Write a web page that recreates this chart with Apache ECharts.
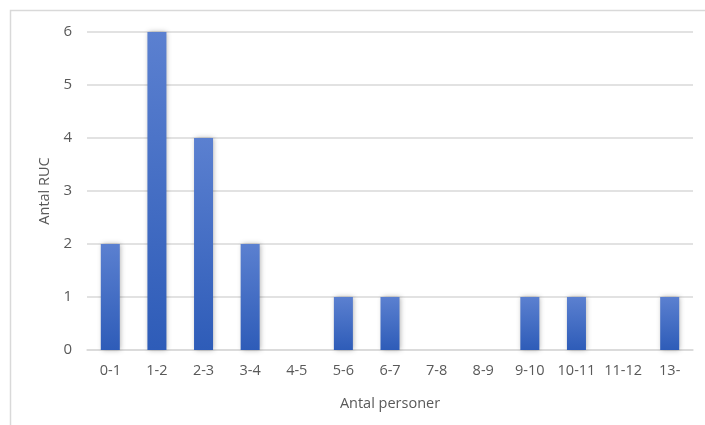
<!DOCTYPE html>
<html><head><meta charset="utf-8">
<script src="https://cdn.jsdelivr.net/npm/echarts@6/dist/echarts.min.js"></script>
<style>html,body{margin:0;padding:0;background:#fff}#c{width:705px;height:425px}</style>
</head><body><div id="c"></div>
<script>
const categories = ['0-1','1-2','2-3','3-4','4-5','5-6','6-7','7-8','8-9','9-10','10-11','11-12','13-'];
const values = [2,6,4,2,0,1,1,0,0,1,1,0,1];
const yTicks = [0,1,2,3,4,5,6];
const chart = echarts.init(document.getElementById('c'));
const font = '"Open Sans", "Noto Sans", sans-serif';
chart.setOption({
  animation:false,
  graphic:[{type:'rect',shape:{x:10.5,y:10.5,width:720,height:440},style:{fill:'none',stroke:'#d9d9d9',lineWidth:1.5},silent:true}],
  grid:{left:87,right:12,top:32,bottom:75},
  xAxis:{type:'category',data:categories,
    name:'Antal personer',nameLocation:'middle',nameGap:46,
    nameTextStyle:{color:'#595959',fontSize:14.5,fontFamily:font},
    axisLine:{lineStyle:{color:'#d9d9d9',width:1.5}},axisTick:{show:false},
    axisLabel:{color:'#595959',fontSize:14.5,fontFamily:font,margin:13,interval:0}},
  yAxis:{type:'value',min:yTicks[0],max:yTicks[yTicks.length-1],interval:1,
    name:'Antal RUC',nameLocation:'middle',nameGap:35,
    nameTextStyle:{color:'#595959',fontSize:14.5,fontFamily:font},
    axisLine:{show:false},axisTick:{show:false},
    splitLine:{lineStyle:{color:'#d9d9d9',width:1.5}},
    axisLabel:{color:'#595959',fontSize:15,fontFamily:font,margin:15}},
  series:[{type:'bar',data:values,barWidth:19,
    itemStyle:{color:new echarts.graphic.LinearGradient(0,0,0,1,[{offset:0,color:'#5b80d0'},{offset:1,color:'#2e5cb8'}]),
      shadowColor:'rgba(0,0,0,0.3)',shadowBlur:5,shadowOffsetX:1,shadowOffsetY:0}}]
});
</script></body></html>
